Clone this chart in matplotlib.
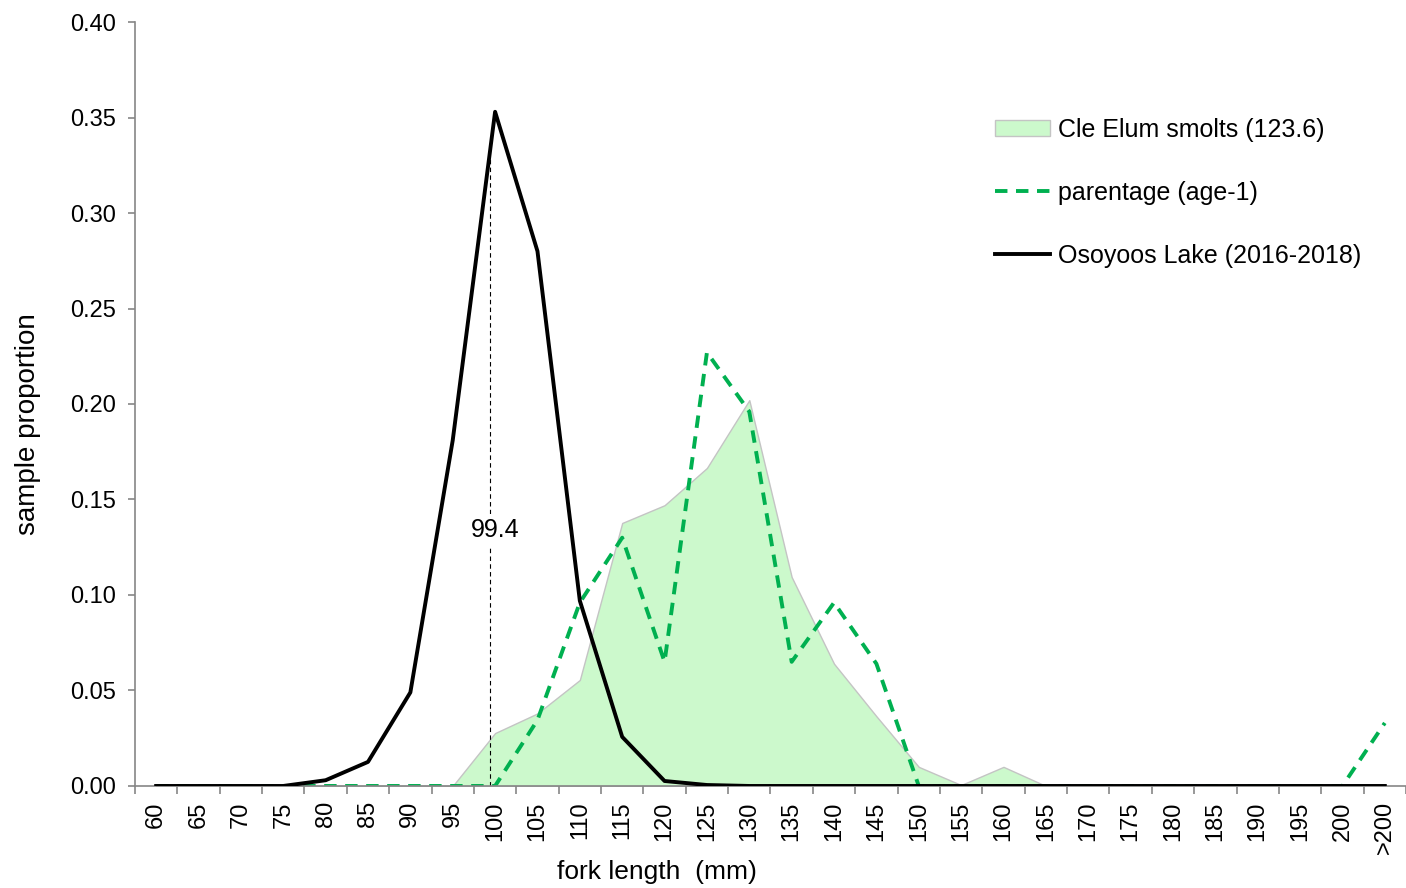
import matplotlib
matplotlib.use("Agg")
import matplotlib.pyplot as plt
from matplotlib.patches import Patch
from matplotlib.lines import Line2D
import numpy as np

plt.rcParams['font.family'] = ['Liberation Sans', 'DejaVu Sans']

# Fork-length bins (mm)
categories = [str(v) for v in range(60, 205, 5)] + ['>200']

# Sample proportions per bin
cle_elum = [0, 0, 0, 0, 0, 0, 0, 0, 0.0277, 0.038, 0.0555, 0.1377, 0.147, 0.1665,
            0.202, 0.1094, 0.064, 0.0365, 0.010, 0.0005, 0.010, 0, 0, 0, 0, 0, 0, 0, 0, 0]
parentage = [0, 0, 0, 0, 0, 0, 0, 0, 0, 0.0345, 0.096, 0.130, 0.065, 0.227,
             0.196, 0.065, 0.096, 0.064, 0, 0, 0, 0, 0, 0, 0, 0, 0, 0, 0, 0.033]
osoyoos = [0, 0, 0, 0, 0.003, 0.0126, 0.049, 0.181, 0.353, 0.280, 0.097, 0.0257,
           0.0026, 0.0005, 0, 0, 0, 0, 0, 0, 0, 0, 0, 0, 0, 0, 0, 0, 0, 0]

osoyoos_mean = 99.4
mean_line_top = 0.329

label_cle = 'Cle Elum smolts (123.6)'
label_par = 'parentage (age-1)'
label_oso = 'Osoyoos Lake (2016-2018)'

fig = plt.figure(figsize=(14.06, 8.88), dpi=100)
ax = fig.add_axes([0.096, 0.1149, 0.904, 0.8603])

x = np.arange(len(categories))
fill_color = '#ccf9cc'
green = '#00b050'

ax.fill_between(x, 0, cle_elum, facecolor=fill_color, edgecolor='#c4c4c4',
                linewidth=1.0, zorder=1)
ax.plot(x, parentage, color=green, lw=2.8, linestyle=(0, (3.2, 2.2)), zorder=2)
ax.plot(x, osoyoos, color='black', lw=2.8, solid_joinstyle='round', zorder=3)

# Mean fork length marker for Osoyoos Lake
def length_to_pos(v):
    return (v - 60) / 5.0

xm = length_to_pos(osoyoos_mean)
ax.plot([xm, xm], [0, mean_line_top], color='black', lw=0.8,
        linestyle=(0, (4, 3)), zorder=2.5)
ax.text(xm + 0.13, 0.134, f'{osoyoos_mean:.1f}', fontsize=18, ha='center',
        va='center', zorder=4,
        bbox=dict(facecolor='white', edgecolor='none', pad=3))

ax.set_xlim(-0.5, len(categories) - 0.5)
ax.set_ylim(0, 0.40)

ax.set_yticks(np.arange(0, 0.401, 0.05))
ax.set_yticklabels([f'{v:.2f}' for v in np.arange(0, 0.401, 0.05)])
ax.set_xticks(x)
ax.set_xticklabels(categories, rotation=90)
ax.set_xticks(np.arange(-0.5, len(categories), 1.0), minor=True)

axis_grey = '#868686'
for side in ('top', 'right'):
    ax.spines[side].set_visible(False)
for side in ('left', 'bottom'):
    ax.spines[side].set_color(axis_grey)
    ax.spines[side].set_linewidth(1.2)

ax.tick_params(axis='y', which='major', direction='out', length=5, width=1.2,
               color=axis_grey, labelsize=17, pad=9, labelcolor='black')
ax.tick_params(axis='x', which='major', length=0, labelsize=17, pad=11)
ax.tick_params(axis='x', which='minor', direction='out', length=6, width=1.2,
               color=axis_grey)

ax.set_xlabel('fork length  (mm)', fontsize=19)
ax.set_ylabel('sample proportion', fontsize=20)
ax.xaxis.set_label_coords(657 / 1406, 1 - 872 / 888, transform=fig.transFigure)
ax.yaxis.set_label_coords(28 / 1406, 1 - 424 / 888, transform=fig.transFigure)
ax.xaxis.label.set_va('center')
ax.yaxis.label.set_va('center')

handles = [
    Patch(facecolor=fill_color, edgecolor='#c4c4c4', linewidth=1.0),
    Line2D([0], [0], color=green, lw=2.8, linestyle=(0, (3.2, 2.2))),
    Line2D([0], [0], color='black', lw=2.8),
]
fig.legend(handles, [label_cle, label_par, label_oso], loc='upper left',
           bbox_to_anchor=(995 / 1406, 1 - 118 / 888), frameon=False,
           fontsize=18, labelspacing=1.55, handlelength=2.2, handleheight=0.6,
           handletextpad=0.3, borderpad=0, borderaxespad=0)

fig.savefig('out.png', dpi=100)
